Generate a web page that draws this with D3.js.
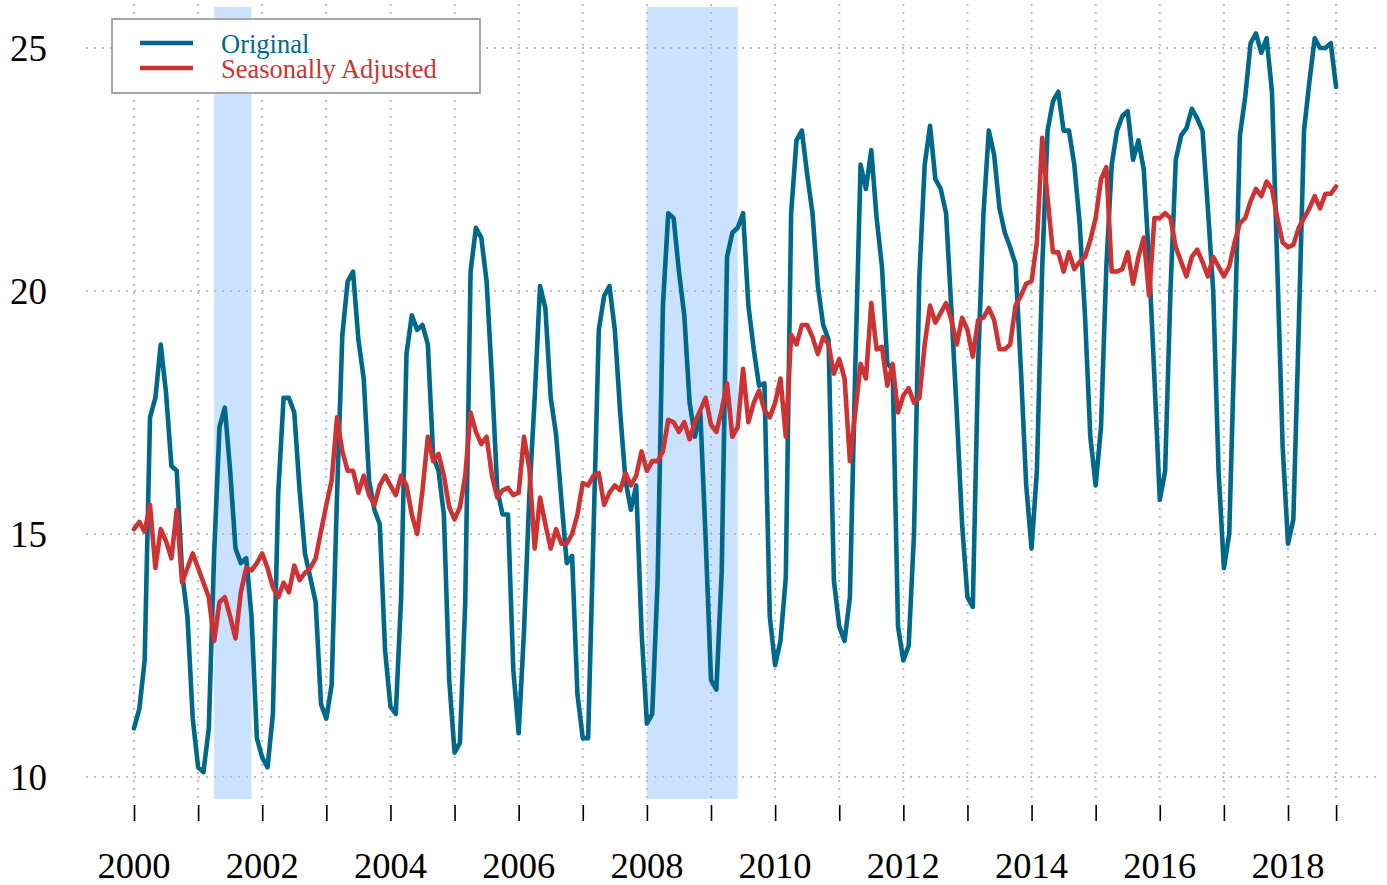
<!DOCTYPE html>
<html><head><meta charset="utf-8">
<script src="https://cdn.jsdelivr.net/npm/d3@7"></script>
<style>html,body{margin:0;padding:0;background:#fff}svg{display:block}</style>
</head><body>
<script>
// Monthly series starting January 2000
const startYear = 2000;
const original = [
11.0,11.4,12.4,17.4,17.8,18.9,17.9,16.4,16.3,14.2,13.3,11.2,
10.2,10.1,11.0,14.6,17.2,17.6,16.3,14.7,14.4,14.5,13.3,10.8,
10.4,10.2,11.3,15.85,17.8,17.8,17.5,15.9,14.6,14.1,13.6,11.5,
11.2,11.9,15.8,19.1,20.2,20.4,19.0,18.2,16.1,15.5,15.2,12.6,
11.45,11.3,13.7,18.7,19.5,19.2,19.3,18.9,16.6,16.3,15.4,12.0,
10.5,10.7,13.6,20.4,21.3,21.1,20.2,18.2,15.9,15.4,15.4,12.2,
10.9,13.0,15.8,17.8,20.1,19.65,17.8,17.05,15.7,14.4,14.55,11.7,
10.8,10.8,15.0,19.2,19.9,20.1,19.2,17.5,16.1,15.5,16.0,13.0,
11.1,11.3,14.0,19.7,21.6,21.5,20.4,19.5,17.7,17.0,17.5,14.9,
12.0,11.8,14.2,20.7,21.2,21.3,21.6,19.7,18.8,18.05,18.1,13.3,
12.3,12.8,14.1,21.6,23.1,23.3,22.4,21.6,20.1,19.3,19.0,14.05,
13.1,12.8,13.7,18.4,22.6,22.1,22.9,21.5,20.5,18.5,18.4,13.1,
12.4,12.7,15.0,20.3,22.6,23.4,22.3,22.1,21.6,19.6,17.5,15.2,
13.7,13.5,18.5,21.6,23.3,22.8,21.7,21.2,20.9,20.55,18.4,16.0,
14.7,16.3,20.5,23.3,23.9,24.1,23.3,23.3,22.6,21.4,19.5,17.0,
16.0,17.2,20.5,22.6,23.3,23.6,23.7,22.7,23.1,22.5,20.6,18.2,
15.7,16.3,20.0,22.7,23.2,23.35,23.75,23.55,23.3,21.7,20.0,16.3,
14.3,15.0,19.0,23.2,24.0,25.1,25.3,24.9,25.2,24.1,20.5,16.8,
14.8,15.3,19.2,23.3,24.3,25.2,25.0,25.0,25.1,24.2
];
const adjusted = [
15.1,15.25,15.05,15.6,14.3,15.1,14.85,14.5,15.5,14.0,14.3,14.6,
14.3,14.0,13.7,12.8,13.6,13.7,13.3,12.85,13.8,14.3,14.25,14.4,
14.6,14.3,13.9,13.7,14.0,13.8,14.35,14.05,14.2,14.3,14.5,15.05,
15.6,16.1,17.4,16.7,16.3,16.3,15.85,16.2,15.8,15.6,16.0,16.2,
16.0,15.8,16.2,16.0,15.4,15.0,15.9,17.0,16.5,16.65,16.2,15.55,
15.3,15.55,16.2,17.5,17.1,16.85,17.0,16.2,15.75,15.9,15.95,15.8,
15.85,17.0,16.35,14.7,15.75,15.2,14.7,15.1,14.8,14.8,15.0,15.4,
16.05,16.0,16.2,16.25,15.6,15.85,16.0,15.9,16.25,16.0,16.2,16.7,
16.3,16.5,16.5,16.7,17.35,17.3,17.1,17.3,16.95,17.3,17.55,17.8,
17.25,17.1,17.55,18.1,17.0,17.2,18.4,17.3,17.7,17.95,17.55,17.4,
17.7,18.2,17.0,19.1,18.9,19.3,19.3,19.05,18.7,19.05,18.9,18.3,
18.6,18.2,16.5,17.5,18.5,18.2,19.75,18.8,18.85,18.05,18.5,17.5,
17.85,18.0,17.7,17.8,18.9,19.7,19.35,19.55,19.75,19.4,18.9,19.45,
19.2,18.65,19.4,19.45,19.65,19.4,18.8,18.8,18.9,19.7,19.9,20.15,
20.2,21.0,23.15,21.9,20.8,20.8,20.4,20.8,20.45,20.6,20.7,21.05,
21.5,22.3,22.55,20.4,20.4,20.45,20.8,20.15,20.7,21.1,19.9,21.5,
21.5,21.6,21.5,20.9,20.6,20.3,20.7,20.85,20.6,20.3,20.7,20.5,
20.3,20.5,21.0,21.4,21.5,21.85,22.1,21.95,22.25,22.1,21.5,21.0,
20.9,20.95,21.3,21.5,21.7,21.95,21.7,22.0,22.0,22.15
];
const recessions = [[2001 + 3/12, 2001 + 10/12], [2008.0, 2009 + 5/12]];
const yTicks = [10, 15, 20, 25];
const xTickYears = d3.range(2000, 2019).concat([2018.75]);
const xLabelYears = [2000, 2002, 2004, 2006, 2008, 2010, 2012, 2014, 2016, 2018];
const seriesNames = ["Original", "Seasonally Adjusted"];
const seriesColors = ["#00688B", "#CD3333"];

const W = 1387, H = 885;
const x = d3.scaleLinear().domain([2000, 2018]).range([134, 1288]);
const y = d3.scaleLinear().domain([10, 25]).range([777, 48]);
const plotTop = 4, plotBottom = 801, plotLeft = 86, plotRight = 1382;

const svg = d3.select("body").append("svg").attr("width", W).attr("height", H)
  .style("font-family", "'Liberation Serif','Times New Roman',serif");

// recession shading
svg.append("g").selectAll("rect").data(recessions).join("rect")
  .attr("x", d => x(d[0])).attr("width", d => x(d[1]) - x(d[0]))
  .attr("y", plotTop + 3).attr("height", plotBottom - plotTop - 5)
  .attr("fill", "#CAE1FF");

// grid
const grid = svg.append("g").attr("stroke", "#bdbdbd").attr("stroke-width", 2)
  .attr("stroke-dasharray", "2,6");
grid.selectAll("line.h").data(yTicks).join("line").attr("class", "h")
  .attr("x1", plotLeft).attr("x2", plotRight)
  .attr("y1", d => y(d)).attr("y2", d => y(d));
grid.selectAll("line.v").data(xTickYears).join("line").attr("class", "v")
  .attr("x1", d => x(d)).attr("x2", d => x(d))
  .attr("y1", plotTop).attr("y2", plotBottom);

// y labels
svg.append("g").selectAll("text").data(yTicks).join("text")
  .attr("x", 47).attr("y", d => y(d) + 12.5)
  .attr("text-anchor", "end").attr("font-size", 37).attr("fill", "#000")
  .text(d => d);

// x axis ticks
const xAxis = d3.axisBottom(x).tickValues(xTickYears).tickSize(16).tickFormat("");
const gx = svg.append("g").attr("transform", `translate(0,${805})`).call(xAxis);
gx.select(".domain").remove();
gx.selectAll(".tick line").attr("stroke", "#000").attr("stroke-width", 1.6).attr("y1", 0);
svg.append("g").selectAll("text").data(xLabelYears).join("text")
  .attr("x", d => x(d)).attr("y", 878).attr("text-anchor", "middle")
  .attr("font-size", 36.5).attr("fill", "#000").text(d => d);

// lines
const line = d3.line().x((d, i) => x(startYear + i / 12)).y(d => y(d));
[original, adjusted].forEach((s, k) => {
  svg.append("path").datum(s).attr("d", line)
    .attr("fill", "none").attr("stroke", seriesColors[k]).attr("stroke-width", 4.6)
    .attr("stroke-linejoin", "round").attr("stroke-linecap", "round");
});

// legend
const lg = svg.append("g");
lg.append("rect").attr("x", 112).attr("y", 19).attr("width", 368).attr("height", 74)
  .attr("fill", "#fff").attr("stroke", "#a6a6a6").attr("stroke-width", 2);
seriesNames.forEach((n, k) => {
  const yy = 43 + k * 25;
  lg.append("line").attr("x1", 140).attr("x2", 193).attr("y1", yy).attr("y2", yy)
    .attr("stroke", seriesColors[k]).attr("stroke-width", 4.6);
  lg.append("text").attr("x", 221).attr("y", yy + 9.5).attr("font-size", 26.5)
    .attr("fill", seriesColors[k]).text(n);
});
</script>
</body></html>
